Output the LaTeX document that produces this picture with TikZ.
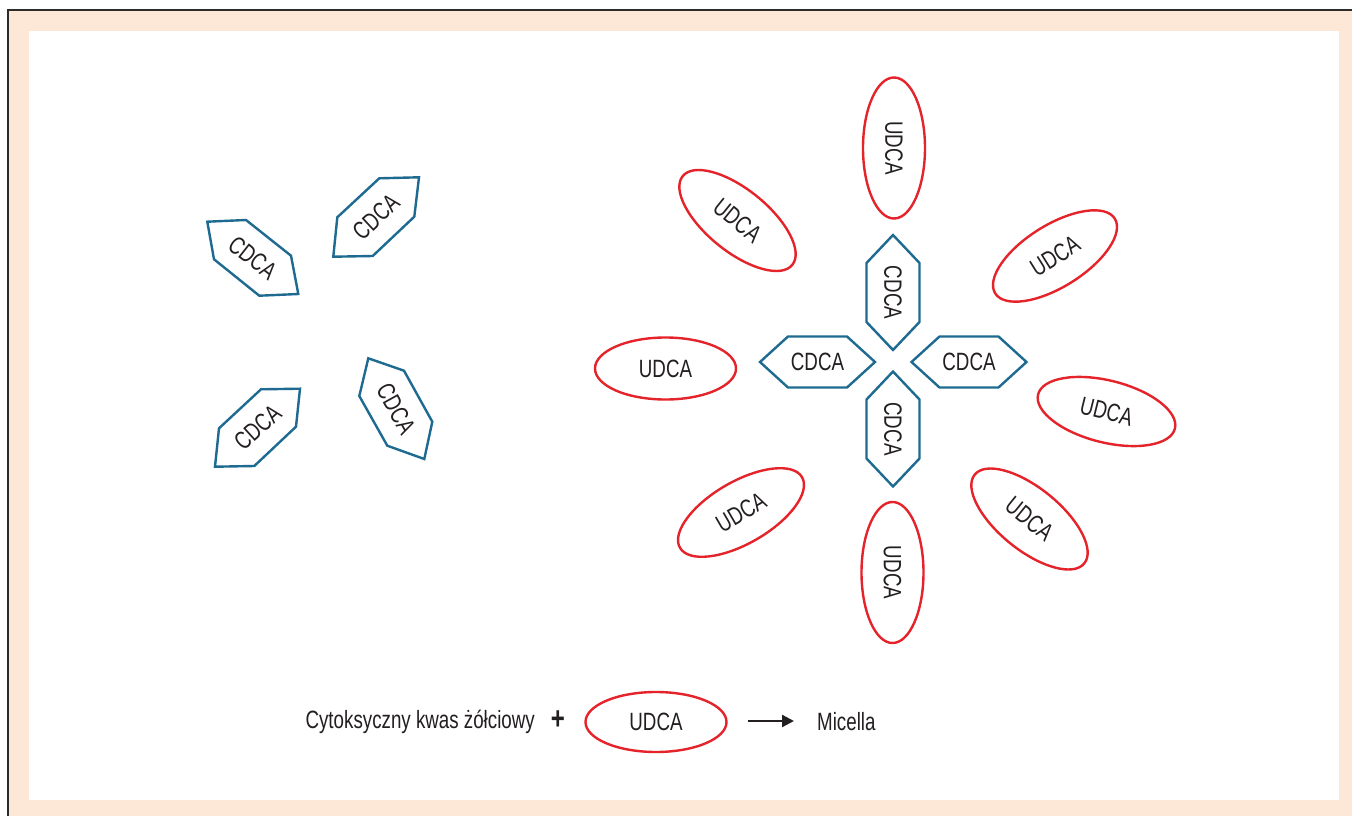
\documentclass[tikz,border=0pt]{standalone}
\usepackage{fontspec}
\setmainfont{Liberation Sans}[FakeStretch=0.75]
\usetikzlibrary{shapes.geometric,arrows.meta}
\definecolor{peach}{HTML}{FDE7D6}
\definecolor{udred}{HTML}{E5232A}
\definecolor{cdblue}{HTML}{1E6A90}
\definecolor{txt}{HTML}{231F20}
\definecolor{frameline}{HTML}{2B2B2B}
\tikzset{
  udca/.style={draw=udred, line width=2.4pt, ellipse, inner sep=0pt,
    minimum width=141pt, minimum height=62pt, text=txt},
  hexline/.style={draw=cdblue, line width=2.4pt, line join=miter},
  lbl/.style={text=txt, inner sep=0pt},
}
\begin{document}
\begin{tikzpicture}[x=1pt,y=-1pt, font=\fontsize{25}{28}\selectfont]
\useasboundingbox (0,0) rectangle (1352,816);
% frame
\fill[peach] (8,10) rectangle (1352,816);
\fill[white] (29,31) rectangle (1339,800);
\draw[frameline, line width=1.5pt] (8,816) -- (8,10) -- (1352,10);

% left group: free CDCA molecules
\draw[hexline] (207.3,221.7) -- (246,220) -- (291,255.7) -- (298.3,294) -- (259.3,295.7) -- (214,259.3) -- cycle;
\node[lbl, rotate=-38] (fa) at (252.7,257.7) {CDCA};
\draw[hexline] (337.3,217.3) -- (379.3,178.3) -- (419,177.3) -- (414.3,216.7) -- (372.7,256) -- (333.3,256.7) -- cycle;
\node[lbl, rotate=43] (fb) at (376,217) {CDCA};
\draw[hexline] (219,428.3) -- (261,389.3) -- (300,388.7) -- (296,426.7) -- (254.3,466) -- (215,466.7) -- cycle;
\node[lbl, rotate=42] (fc) at (257.6,427.6) {CDCA};
\draw[hexline] (368.3,358.3) -- (404,370.7) -- (432.3,421.7) -- (424.3,459) -- (387.3,445.7) -- (359.3,396) -- cycle;
\node[lbl, rotate=-61] (fd) at (396,408.6) {CDCA};

% micelle core: four CDCA
\begin{scope}[shift={(893,292.5)}]
\draw[hexline] (0,-57.5) -- (26.5,-29.5) -- (26.5,29.5) -- (0,57.5) -- (-26.5,29.5) -- (-26.5,-29.5) -- cycle;
\end{scope}
\node[lbl, rotate=-90] (ct) at (893,292.5) {CDCA};
\begin{scope}[shift={(893,429)}]
\draw[hexline] (0,-57.5) -- (26.5,-29.5) -- (26.5,29.5) -- (0,57.5) -- (-26.5,29.5) -- (-26.5,-29.5) -- cycle;
\end{scope}
\node[lbl, rotate=-90] (cb) at (893,429) {CDCA};
\begin{scope}[shift={(817.5,362)}]
\draw[hexline] (-57.5,0) -- (-29.5,-25.5) -- (29.5,-25.5) -- (57.5,0) -- (29.5,25.5) -- (-29.5,25.5) -- cycle;
\end{scope}
\node[lbl] (cl) at (817.5,362) {CDCA};
\begin{scope}[shift={(969,362)}]
\draw[hexline] (-57.5,0) -- (-29.5,-25.5) -- (29.5,-25.5) -- (57.5,0) -- (29.5,25.5) -- (-29.5,25.5) -- cycle;
\end{scope}
\node[lbl] (cr) at (969,362) {CDCA};

% UDCA ring
\node[udca, rotate=-90] (u1) at (894,148) {UDCA};
\node[udca, rotate=-39] (u2) at (737.5,220.5) {UDCA};
\node[udca, rotate=32] (u3) at (1055,256) {UDCA};
\node[udca] (u4) at (665.5,368.5) {UDCA};
\node[udca, rotate=-14] (u5) at (1106.5,411.5) {UDCA};
\node[udca, rotate=30] (u6) at (741,512.5) {UDCA};
\node[udca, rotate=-39] (u7) at (1029.5,519) {UDCA};
\node[udca, rotate=-90] (u8) at (892.5,572.5) {UDCA};

% legend
\node[lbl, anchor=east] (cyto) at (535,722) {Cytoksyczny kwas żółciowy};
\node[lbl, font=\fontsize{32}{32}\selectfont\bfseries] (plus) at (558,720) {+};
\node[udca, minimum height=60pt] (leg) at (656,722) {UDCA};
\coordinate (as) at (748,721);
\coordinate (ae) at (794,721);
\draw[txt, line width=2.2pt, -{Triangle[length=12pt,width=12pt]}] (as) -- (ae);
\node[lbl, anchor=west] (mic) at (817,722) {Micella};
\end{tikzpicture}
\end{document}
